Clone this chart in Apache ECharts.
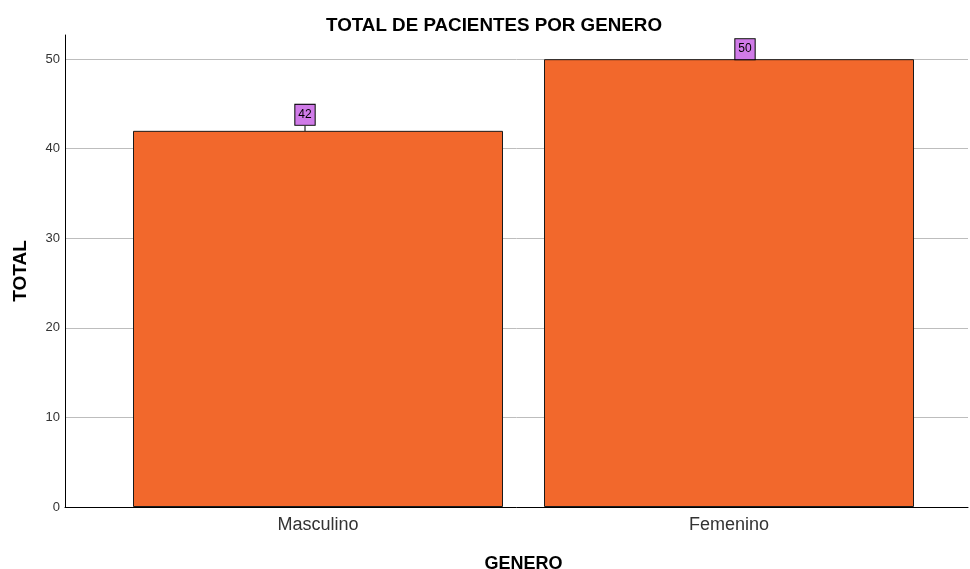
<!DOCTYPE html>
<html>
<head>
<meta charset="utf-8">
<script src="https://cdn.jsdelivr.net/npm/echarts@6/dist/echarts.min.js"></script>
<style>
  html, body { margin: 0; padding: 0; background: #fff; }
  #chart { width: 970px; height: 569px; }
</style>
</head>
<body>
<div id="chart"></div>
<script>
const categories = ['Masculino', 'Femenino']
const totals = [42, 50]
const yMax = 52.7

const chart = echarts.init(document.getElementById('chart'))
const font = 'Liberation Sans, Arial, sans-serif'

const option = {
  backgroundColor: '#fff',
  textStyle: { fontFamily: font },
  title: {
    text: 'TOTAL DE PACIENTES POR GENERO',
    left: 321,
    top: 11,
    textStyle: { fontSize: 18.8, fontWeight: 'bold', color: '#000', fontFamily: font }
  },
  grid: [
    // frame grid: full width axis lines and gridlines
    { left: 65, right: 2, top: 35, bottom: 62, outerBoundsMode: 'none' },
    // bars grid
    { left: 112.5, right: 35.5, top: 35, bottom: 62, outerBoundsMode: 'none' }
  ],
  xAxis: [
    {
      gridIndex: 0,
      type: 'category',
      data: categories,
      axisLine: { lineStyle: { color: '#000', width: 1 } },
      axisTick: { show: false },
      axisLabel: { show: false }
    },
    {
      gridIndex: 1,
      type: 'category',
      data: categories,
      axisLine: { show: false },
      axisTick: { show: false },
      axisLabel: { fontSize: 18, color: '#333', margin: 9, fontFamily: font },
      name: 'GENERO',
      nameLocation: 'middle',
      nameGap: 48,
      nameTextStyle: { fontSize: 18, fontWeight: 'bold', color: '#000', fontFamily: font }
    }
  ],
  yAxis: [
    {
      gridIndex: 0,
      type: 'value',
      min: 0,
      max: yMax,
      interval: 10,
      axisLine: { show: true, lineStyle: { color: '#000', width: 1 } },
      axisTick: { show: false },
      axisLabel: {
        fontSize: 13,
        color: '#333',
        margin: 5,
        fontFamily: font,
        showMaxLabel: false
      },
      splitLine: {
        show: true,
        showMaxLine: false,
        lineStyle: { color: '#bdbdbd', width: 1 }
      },
      name: 'TOTAL',
      nameLocation: 'middle',
      nameRotate: 90,
      nameGap: 35,
      nameTextStyle: { fontSize: 19, fontWeight: 'bold', color: '#000', fontFamily: font }
    },
    {
      gridIndex: 1,
      type: 'value',
      min: 0,
      max: yMax,
      show: false
    }
  ],
  series: [
    {
      type: 'bar',
      xAxisIndex: 1,
      yAxisIndex: 1,
      data: totals,
      barWidth: 370,
      itemStyle: { color: '#F2682C', borderColor: '#1a1a1a', borderWidth: 1 },
      label: {
        show: true,
        position: 'top',
        distance: 6,
        fontSize: 12,
        color: '#000',
        fontFamily: font,
        backgroundColor: '#D07BE8',
        borderColor: '#000',
        borderWidth: 1,
        padding: [4, 3, 4, 3]
      },
      labelLayout: function (params) {
        if (params.dataIndex === 0) {
          return { dx: -13, dy: 0 }
        }
        return { dx: 16, dy: 6 }
      },
      labelLine: { show: true, lineStyle: { color: '#000', width: 1 } }
    }
  ]
}

chart.setOption(option)
</script>
</body>
</html>
